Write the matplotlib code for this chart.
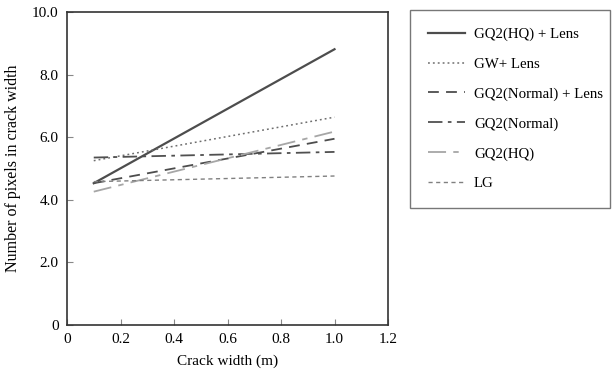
import matplotlib
matplotlib.use("Agg")
import matplotlib.pyplot as plt

plt.rcParams['font.family'] = ['Liberation Serif', 'DejaVu Serif']

# crack widths (m) and pixel counts for each camera setup
crack_width = [0.1, 1.0]
series_names = ["GQ2(HQ) + Lens", "GW+ Lens", "GQ2(Normal) + Lens",
                "GQ2(Normal)", "GQ2(HQ)", "LG"]
hq_lens = [4.53, 8.81]
gw_lens = [5.25, 6.64]
normal_lens = [4.53, 5.95]
normal = [5.35, 5.53]
hq = [4.26, 6.18]
lg = [4.58, 4.76]

x_ticks = [0, 0.2, 0.4, 0.6, 0.8, 1.0, 1.2]
x_labels = ["0", "0.2", "0.4", "0.6", "0.8", "1.0", "1.2"]
y_ticks = [0, 2, 4, 6, 8, 10]
y_labels = ["0", "2.0", "4.0", "6.0", "8.0", "10.0"]

fig = plt.figure(figsize=(6.13, 3.78), dpi=100)
ax = fig.add_axes([67/613, 1 - 325/378, (388 - 67)/613, (325 - 12)/378])

ax.plot(crack_width, hq_lens, color='#4d4d4d', lw=1.6, ls='-', label=series_names[0])
ax.plot(crack_width, gw_lens, color='#6e6e6e', lw=1.1, ls=(0, (1.2, 2)), label=series_names[1])
ax.plot(crack_width, normal_lens, color='#4d4d4d', lw=1.3, ls=(0, (6, 4)), label=series_names[2])
ax.plot(crack_width, normal, color='#505050', lw=1.3, ls=(0, (8, 3, 2, 3)), label=series_names[3])
ax.plot(crack_width, hq, color='#a6a6a6', lw=1.3, ls=(0, (10, 4, 3, 4)), label=series_names[4])
ax.plot(crack_width, lg, color='#808080', lw=1.0, ls=(0, (3, 2.5)), label=series_names[5])

ax.set_xlim(0, 1.2)
ax.set_ylim(0, 10)
ax.set_xticks(x_ticks)
ax.set_xticklabels(x_labels)
ax.set_yticks(y_ticks)
ax.set_yticklabels(y_labels)
ax.tick_params(direction='in', length=4, width=0.8, color='#888888', labelsize=11, pad=6)
for s in ax.spines.values():
    s.set_linewidth(1.2)
    s.set_color('#333333')

ax.set_xlabel("Crack width (m)", fontsize=11, labelpad=6)
ax.set_ylabel("Number of pixels in crack width", fontsize=11.5, labelpad=8)

leg = fig.legend(loc='upper left', bbox_to_anchor=(410/613, 1 - 10/378, 200/613, 0.001),
                 mode='expand', fontsize=10.7, frameon=True, fancybox=False,
                 handlelength=2.5, handletextpad=0.6, labelspacing=1.1,
                 borderpad=1.2, borderaxespad=0)
leg.get_frame().set_edgecolor('#555555')
leg.get_frame().set_linewidth(1.0)

fig.savefig("out.png", dpi=100)
